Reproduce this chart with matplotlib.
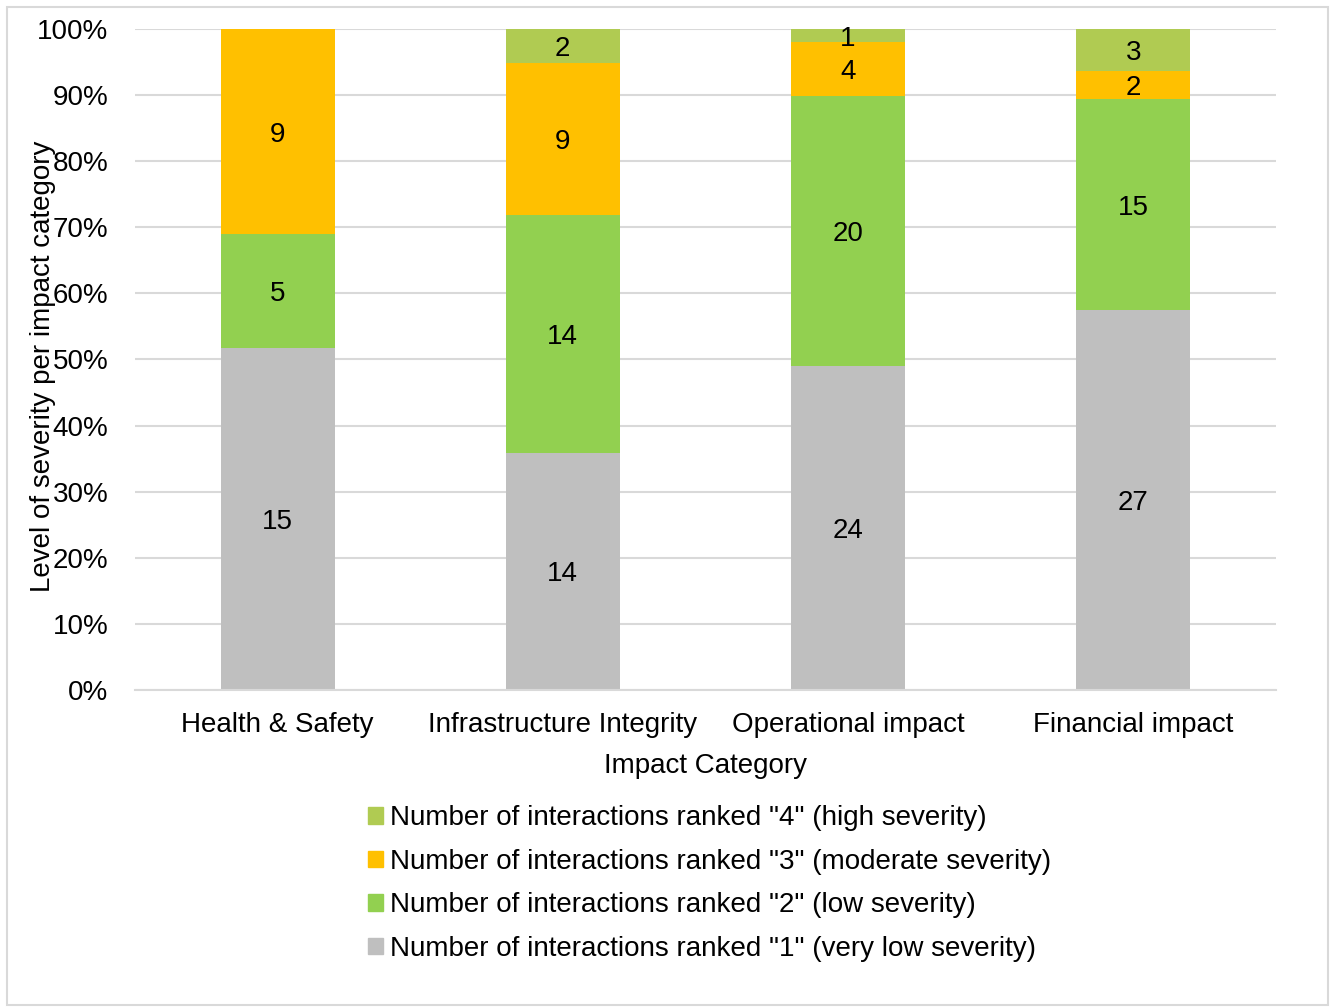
import matplotlib.pyplot as plt
import numpy as np
from matplotlib.patches import Rectangle

plt.rcParams['font.family'] = ['Liberation Sans', 'DejaVu Sans']

categories = ["Health & Safety", "Infrastructure Integrity", "Operational impact", "Financial impact"]
rank1 = [15, 14, 24, 27]
rank2 = [5, 14, 20, 15]
rank3 = [9, 9, 4, 2]
rank4 = [0, 2, 1, 3]

series = [rank1, rank2, rank3, rank4]
names = ['Number of interactions ranked "1" (very low severity)',
         'Number of interactions ranked "2" (low severity)',
         'Number of interactions ranked "3" (moderate severity)',
         'Number of interactions ranked "4" (high severity)']
colors = ["#BFBFBF", "#92D050", "#FFC000", "#B0CB52"]

counts = np.array(series, dtype=float)
totals = counts.sum(axis=0)
shares = counts / totals * 100

fig = plt.figure(figsize=(13.36, 10.07), dpi=100)
ax = fig.add_axes([0.101, 0.3148, 0.854, 0.6564])

x = np.arange(len(categories))
bottom = np.zeros(len(categories))
for vals, pct, col, name in zip(counts, shares, colors, names):
    ax.bar(x, pct, bottom=bottom, width=0.4, color=col, label=name, zorder=2)
    for xi, v, p, b0 in zip(x, vals, pct, bottom):
        if v > 0:
            ax.text(xi, b0 + p / 2, f"{int(v)}", ha="center", va="center_baseline",
                    fontsize=20, zorder=3)
    bottom += pct

ax.set_ylim(0, 100)
ax.set_xlim(-0.5, len(categories) - 0.5)
ax.set_yticks(np.arange(0, 101, 10))
ax.set_yticklabels([f"{t}%" for t in range(0, 101, 10)], fontsize=20)
ax.set_xticks(x)
ax.set_xticklabels(categories, fontsize=20)
ax.tick_params(axis="x", length=0, pad=16)
ax.tick_params(axis="y", length=0, pad=19)
ax.grid(axis="y", color="#D9D9D9", linewidth=1.5, zorder=0)
for s in ["top", "right", "left"]:
    ax.spines[s].set_visible(False)
ax.spines["bottom"].set_color("#D9D9D9")
ax.spines["bottom"].set_linewidth(1.5)

ax.set_xlabel("Impact Category", fontsize=20, labelpad=11)
fig.text(0.032, 0.636, "Level of severity per impact category", rotation=90,
         ha="center", va="center", fontsize=20)

handles = [Rectangle((0, 0), 1, 1, color=c) for c in colors][::-1]
fig.legend(handles, names[::-1], loc="upper center", bbox_to_anchor=(0.531, 0.225),
           frameon=False, fontsize=20, handlelength=0.55, handleheight=0.55,
           handletextpad=0.25, labelspacing=0.63)

fig.add_artist(Rectangle((0.005, 0.002), 0.989, 0.991, transform=fig.transFigure,
                         fill=False, edgecolor="#D9D9D9", linewidth=1.5))

fig.savefig("out.png", dpi=100)
